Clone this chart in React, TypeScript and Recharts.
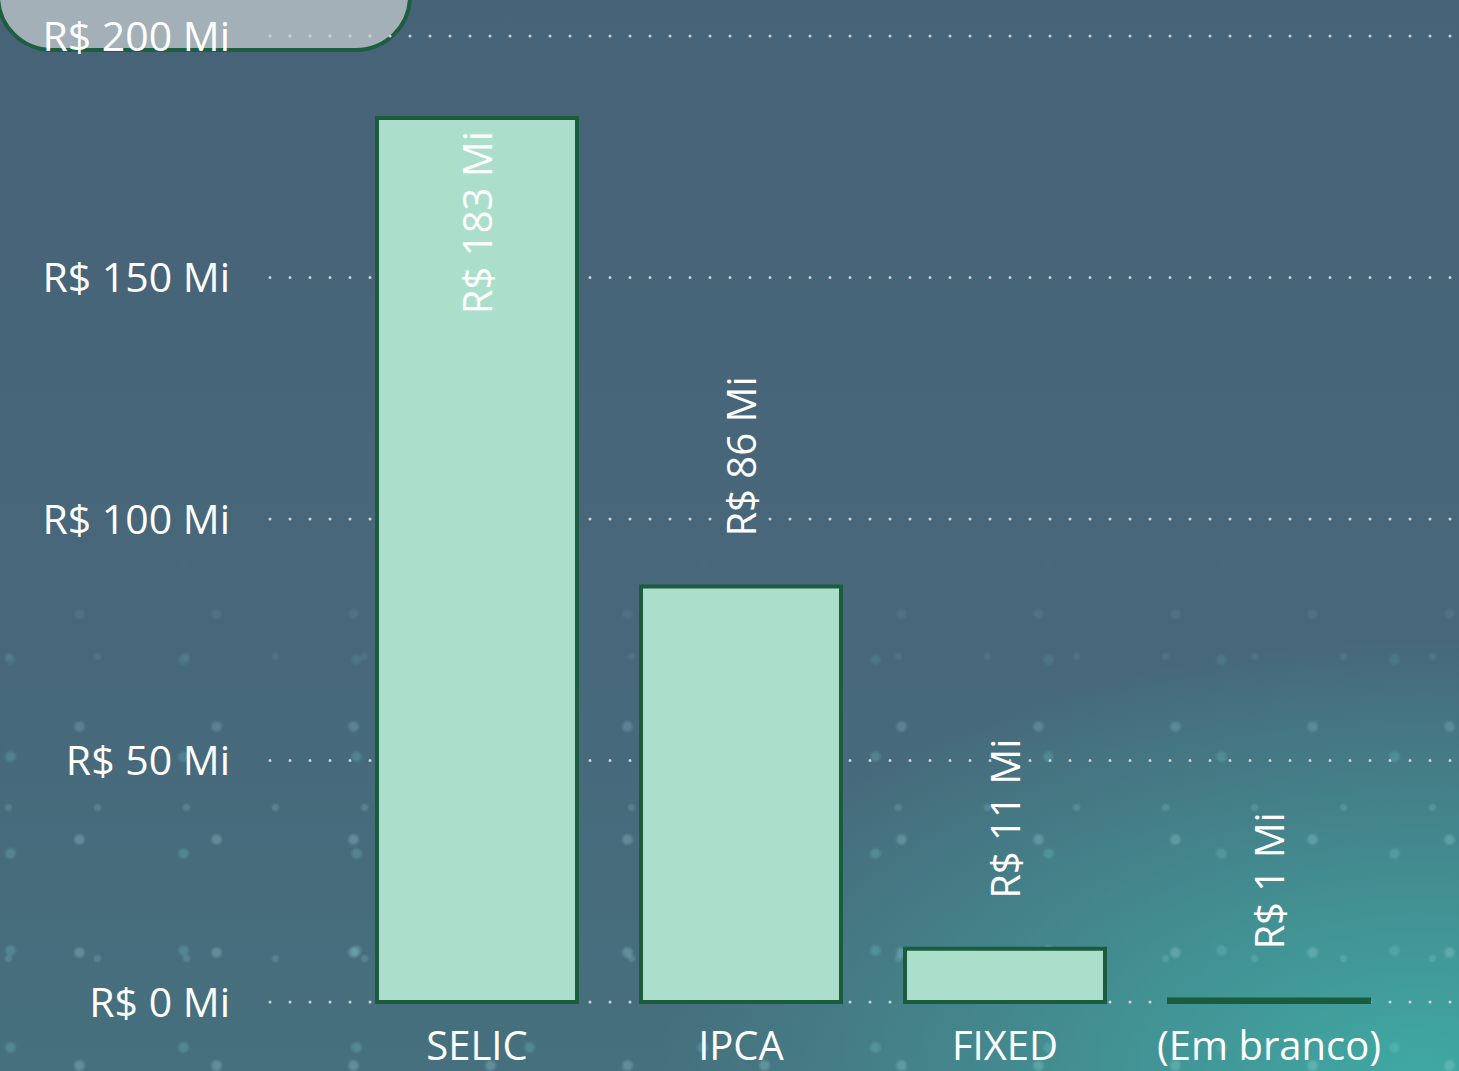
import React from 'react';
import { Bar, BarChart, CartesianGrid, LabelList, XAxis, YAxis } from 'recharts';

const categories = ['SELIC', 'IPCA', 'FIXED', '(Em branco)'];
const values = [183, 86, 11, 0.5];
const yTicks = [0, 50, 100, 150, 200];

const chartData = categories.map((name, i) => ({ name, value: values[i] }));

const fontFamily = '"Segoe UI", "Open Sans", "Noto Sans", sans-serif';
const formatMi = (v: number) => `R$ ${Math.round(v)} Mi`;

const PLOT_TOP = 36;

const BarValueLabel = (props: any) => {
  const { x, y, width, value } = props;
  const text = formatMi(Number(value));
  const fontSize = 40;
  const approxLen = text.length * fontSize * 0.52;
  const cx = x + width / 2;
  const above = y - 50 - approxLen > PLOT_TOP;
  const ay = above ? y - 50 : y + 13;
  return (
    <text
      x={cx}
      y={ay}
      transform={`rotate(-90, ${cx}, ${ay})`}
      textAnchor={above ? 'start' : 'end'}
      dominantBaseline="central"
      fill="#ffffff"
      fontSize={fontSize}
      fontFamily={fontFamily}
    >
      {text}
    </text>
  );
};

const App: React.FC = () => (
  <div
    style={{
      position: 'fixed',
      left: 0,
      top: 0,
      width: 1459,
      height: 1071,
      overflow: 'hidden',
      background:
        'radial-gradient(ellipse 760px 430px at 1420px 1071px, #3fa8a2 0%, rgba(63,168,162,0.55) 45%, rgba(63,168,162,0) 100%), linear-gradient(180deg, #476378 0%, #47677a 55%, #46707e 100%)',
    }}
  >
    {/* soft speckles in the lower half of the backdrop */}
    <div
      style={{
        position: 'absolute',
        left: 0,
        top: 540,
        width: 1459,
        height: 531,
        backgroundImage:
          'radial-gradient(circle, rgba(170,220,225,0.28) 0 3px, rgba(170,220,225,0) 7px), radial-gradient(circle, rgba(160,215,220,0.2) 0 2px, rgba(160,215,220,0) 5px), radial-gradient(circle, rgba(120,210,210,0.25) 0 3px, rgba(120,210,210,0) 7px)',
        backgroundSize: '137px 113px, 89px 151px, 173px 97px',
        backgroundPosition: '11px 17px, 53px 41px, 97px 71px',
        WebkitMaskImage: 'linear-gradient(180deg, rgba(0,0,0,0) 0%, rgba(0,0,0,1) 45%)',
        maskImage: 'linear-gradient(180deg, rgba(0,0,0,0) 0%, rgba(0,0,0,1) 45%)',
      }}
    />
    <div
      style={{
        position: 'absolute',
        left: -4,
        top: -60,
        width: 408,
        height: 104,
        background: '#a3b0b8',
        border: '4px solid #1d5e40',
        borderRadius: '0 0 56px 56px',
      }}
    />
    <div style={{ position: 'absolute', left: 0, top: 0 }}>
      <BarChart
        width={1459}
        height={1071}
        data={chartData}
        margin={{ top: PLOT_TOP, right: 0, bottom: 0, left: 0 }}
        barSize={200}
      >
        <CartesianGrid
          horizontal
          vertical={false}
          stroke="#cfd3d3"
          strokeWidth={3}
          strokeDasharray="0 20"
          strokeLinecap="round"
        />
        <XAxis
          dataKey="name"
          axisLine={false}
          tickLine={false}
          height={69}
          padding={{ left: 75, right: 58 }}
          tick={{ fill: '#ffffff', fontSize: 40, fontFamily }}
          tickMargin={24}
          interval={0}
        />
        <YAxis
          type="number"
          domain={[0, 200]}
          ticks={yTicks}
          width={270}
          axisLine={false}
          tickLine={false}
          tickMargin={34}
          tickFormatter={formatMi}
          tick={{ fill: '#ffffff', fontSize: 41, fontFamily }}
        />
        <Bar
          dataKey="value"
          fill="#abdfcb"
          stroke="#1b5c3e"
          strokeWidth={4}
          isAnimationActive={false}
        >
          <LabelList dataKey="value" content={BarValueLabel} />
        </Bar>
      </BarChart>
    </div>
  </div>
);

export default App;
